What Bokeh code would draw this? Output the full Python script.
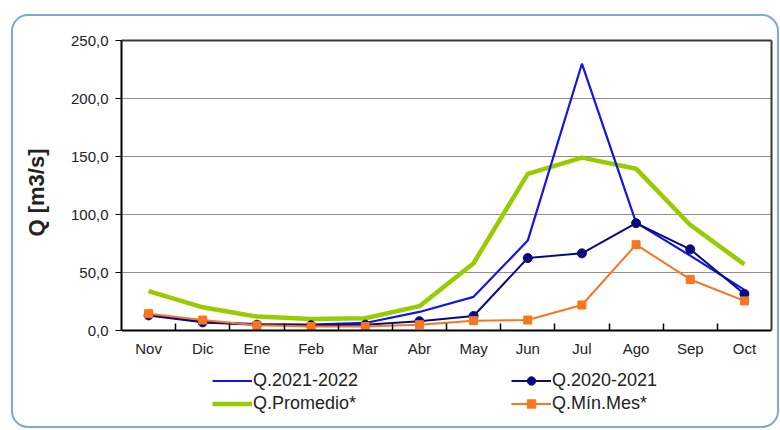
from bokeh.plotting import figure
from bokeh.models import (FixedTicker, Legend, LegendItem, Range1d, LinearAxis,
                          InlineStyleSheet, Title)
from bokeh.embed import file_html
from bokeh.resources import INLINE

# Monthly discharge, hydrological year Nov-Oct
months = ["Nov", "Dic", "Ene", "Feb", "Mar", "Abr", "May", "Jun", "Jul", "Ago", "Sep", "Oct"]
q_2021_2022 = [14.0, 7.5, 5.5, 5.0, 6.5, 16.0, 29.0, 77.5, 230.0, 93.0, 64.5, 35.0]
q_2020_2021 = [13.0, 7.0, 5.0, 4.5, 5.0, 8.0, 12.5, 62.5, 66.5, 92.5, 70.0, 31.5]
q_promedio = [34.0, 20.0, 12.0, 10.0, 10.5, 21.0, 58.0, 135.0, 149.0, 139.5, 91.0, 57.0]
q_min_mes = [14.5, 9.0, 4.5, 3.5, 3.5, 5.0, 8.5, 9.0, 22.0, 74.0, 44.0, 25.5]

y_ticks = [0, 50, 100, 150, 200, 250]
y_tick_labels = ["0,0", "50,0", "100,0", "150,0", "200,0", "250,0"]

FONT = "Liberation Sans"
TEXT = "#222222"

# month i sits in the middle of band [i, i+1]
xs = [i + 0.5 for i in range(len(months))]

# The frame runs down to the bottom of the chart box so the legend can sit
# inside it; the value axis spans 0..250 and the month axis is pinned at 0.
PX_PER_UNIT = 290 / 250
FRAME_H = 386
y_lo = -(FRAME_H - 290) / PX_PER_UNIT

p = figure(
    width=780, height=430,
    x_range=Range1d(0, len(months)), y_range=Range1d(y_lo, 250),
    output_backend="svg", toolbar_location=None,
    x_axis_location=None,
    min_border_left=121, min_border_right=9,
    min_border_top=40, min_border_bottom=4,
    background_fill_color="white", border_fill_color="white",
)
p.outline_line_color = None

# month axis: labels at band centres, small inward ticks at band edges
xax = LinearAxis(fixed_location=0, bounds=(0, len(months)))
xax.ticker = FixedTicker(ticks=xs, minor_ticks=list(range(1, len(months))))
xax.major_label_overrides = {x: m for x, m in zip(xs, months)}
xax.major_tick_in = 0
xax.major_tick_out = 0
xax.minor_tick_in = 7
xax.minor_tick_out = 0
xax.minor_tick_line_color = "black"
xax.minor_tick_line_width = 1.5
xax.axis_line_color = "black"
xax.axis_line_width = 2
xax.major_label_standoff = 9
xax.major_label_text_font = FONT
xax.major_label_text_font_size = "15px"
xax.major_label_text_color = TEXT
p.add_layout(xax, "below")

yax = p.yaxis[0]
yax.bounds = (0, 250)
yax.ticker = FixedTicker(ticks=y_ticks)
yax.major_label_overrides = {t: s for t, s in zip(y_ticks, y_tick_labels)}
yax.major_tick_in = 0
yax.major_tick_out = 6
yax.major_tick_line_color = "black"
yax.minor_tick_in = 0
yax.minor_tick_out = 0
yax.axis_line_color = "black"
yax.axis_line_width = 2
yax.major_label_standoff = 7
yax.major_label_text_font = FONT
yax.major_label_text_font_size = "15px"
yax.major_label_text_color = TEXT

# value-axis caption, placed beside the 0..250 span
p.add_layout(Title(
    text="Q [m3/s]", align="right", offset=108, standoff=38,
    text_font=FONT, text_font_size="22px", text_font_style="bold",
    text_color=TEXT,
), "left")

# plain frame edges on top and right
top_edge = LinearAxis(ticker=FixedTicker(ticks=[]), axis_line_color="#3a3a3a", axis_line_width=2)
right_edge = LinearAxis(ticker=FixedTicker(ticks=[]), bounds=(0, 250),
                        axis_line_color="#3a3a3a", axis_line_width=2)
p.add_layout(top_edge, "above")
p.add_layout(right_edge, "right")

p.xgrid.grid_line_color = None
p.ygrid.ticker = FixedTicker(ticks=y_ticks[1:])
p.ygrid.grid_line_color = "#8f8f8f"
p.ygrid.grid_line_width = 1

green = p.line(xs, q_promedio, line_color="#99CC00", line_width=4.5)
blue = p.line(xs, q_2021_2022, line_color="#1414E6", line_width=2.2)
navy_l = p.line(xs, q_2020_2021, line_color="#0A0A80", line_width=2)
navy_m = p.scatter(xs, q_2020_2021, marker="circle", size=9,
                   fill_color="#0A0A80", line_color="#0A0A80")
orange_l = p.line(xs, q_min_mes, line_color="#F8761E", line_width=2)
orange_m = p.scatter(xs, q_min_mes, marker="square", size=8,
                     fill_color="#F8761E", line_color="#F8761E")


def make_legend(items, loc):
    leg = Legend(items=items, location=loc)
    leg.border_line_color = None
    leg.background_fill_alpha = 0
    leg.padding = 0
    leg.margin = 0
    leg.spacing = 2
    leg.glyph_width = 40
    leg.glyph_height = 21
    leg.label_height = 21
    leg.label_standoff = 1
    leg.label_text_font = FONT
    leg.label_text_font_size = "18px"
    leg.label_text_color = TEXT
    return leg


p.add_layout(make_legend([
    LegendItem(label="Q.2021-2022", renderers=[blue]),
    LegendItem(label="Q.Promedio*", renderers=[green]),
], (91, 12)))
p.add_layout(make_legend([
    LegendItem(label="Q.2020-2021", renderers=[navy_l, navy_m]),
    LegendItem(label="Q.Mín.Mes*", renderers=[orange_l, orange_m]),
], (390, 12)))

# rounded border around the whole chart area
p.stylesheets = [InlineStyleSheet(css="""
:host::after {
  content: "";
  position: absolute;
  left: 11px; top: 14px;
  width: 768px; height: 414px;
  box-sizing: border-box;
  border: 2.5px solid #7FA7D9;
  border-radius: 17px;
  pointer-events: none;
}
""")]

open("out.html", "w").write(file_html(p, INLINE))
